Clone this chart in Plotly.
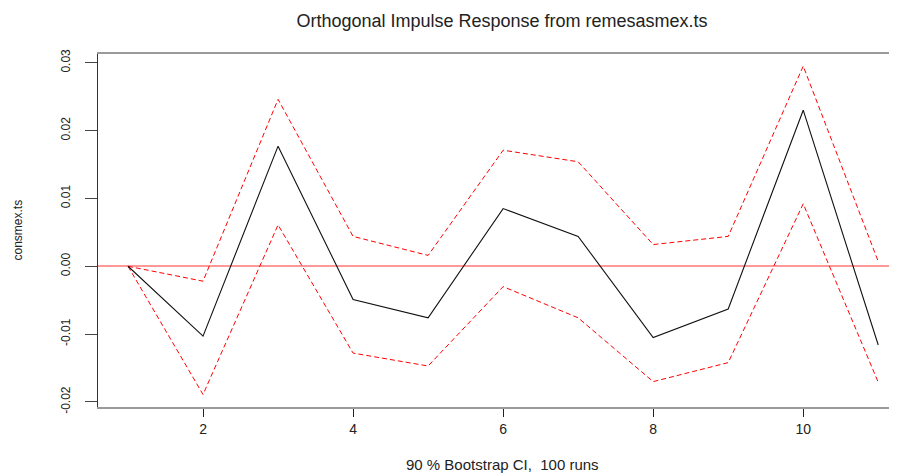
import plotly.graph_objects as go

horizon = [1, 2, 3, 4, 5, 6, 7, 8, 9, 10, 11]
irf = [0.0, -0.0103, 0.0177, -0.0049, -0.0076, 0.0085, 0.0044, -0.0105, -0.0063, 0.0230, -0.0116]
upper = [0.0, -0.0022, 0.0246, 0.0044, 0.0016, 0.0171, 0.0154, 0.0032, 0.0044, 0.0295, 0.0007]
lower = [0.0, -0.0189, 0.0061, -0.0128, -0.0147, -0.0030, -0.0076, -0.0170, -0.0142, 0.0092, -0.0171]
x_ticks = [2, 4, 6, 8, 10]
y_ticks = [-0.02, -0.01, 0.0, 0.01, 0.02, 0.03]
y_tick_text = ["-0.02", "-0.01", "0.00", "0.01", "0.02", "0.03"]

title_text = "Orthogonal Impulse Response from remesasmex.ts"
y_title = "consmex.ts"
x_title = "90 % Bootstrap CI,  100 runs"

FONT = "Liberation Sans, Arial, sans-serif"
W, H = 889, 466  # page body margin of 8px shifts the figure

fig = go.Figure()
fig.add_trace(go.Scatter(x=horizon, y=upper, mode="lines",
                         line=dict(color="#ff0000", width=1, dash="5px,3px"),
                         showlegend=False, hoverinfo="skip"))
fig.add_trace(go.Scatter(x=horizon, y=lower, mode="lines",
                         line=dict(color="#ff0000", width=1, dash="5px,3px"),
                         showlegend=False, hoverinfo="skip"))
fig.add_trace(go.Scatter(x=horizon, y=irf, mode="lines",
                         line=dict(color="#111111", width=1.1),
                         showlegend=False))

plot_left, plot_top, plot_bottom = 90, 46, 399
plot_h = plot_bottom - plot_top
plot_w = W - plot_left

fig.update_layout(
    width=W, height=H,
    margin=dict(l=plot_left, r=0, t=plot_top, b=H - plot_bottom),
    paper_bgcolor="white", plot_bgcolor="white",
    font=dict(family=FONT, color="#222222", size=12),
    title=dict(text=title_text, x=494 / W, xanchor="center",
               y=1 - 12.5 / H, yanchor="middle", yref="container",
               font=dict(size=18, color="#222222")),
    xaxis=dict(range=[0.6, 11.25], tickvals=x_ticks, showgrid=False, zeroline=False,
               showline=True, linecolor="#9a9a9a", linewidth=2, mirror=True,
               ticks="outside", ticklen=8, tickcolor="#222222", tickwidth=1,
               tickfont=dict(size=14), ticklabelstandoff=0),
    yaxis=dict(range=[-0.02074, 0.03128], tickvals=y_ticks, ticktext=y_tick_text,
               showgrid=False, zeroline=True, zerolinecolor="rgba(255,0,0,0.4)",
               zerolinewidth=2, showline=True, linecolor="#333333", linewidth=1,
               ticks="outside", ticklen=12, tickcolor="#444444", tickwidth=1,
               tickangle=-90, tickfont=dict(size=12), ticklabelstandoff=10),
    annotations=[
        dict(text=y_title, xref="paper", yref="paper", x=(9 - plot_left) / plot_w, y=0.5,
             xanchor="center", yanchor="middle", textangle=-90, showarrow=False,
             font=dict(size=12, color="#222222")),
        dict(text=x_title, xref="paper", yref="paper", x=(494 - plot_left) / plot_w,
             y=(plot_bottom - 456) / plot_h, xanchor="center", yanchor="middle",
             showarrow=False, font=dict(size=15, color="#222222")),
    ],
)

fig.write_html("out.html")
